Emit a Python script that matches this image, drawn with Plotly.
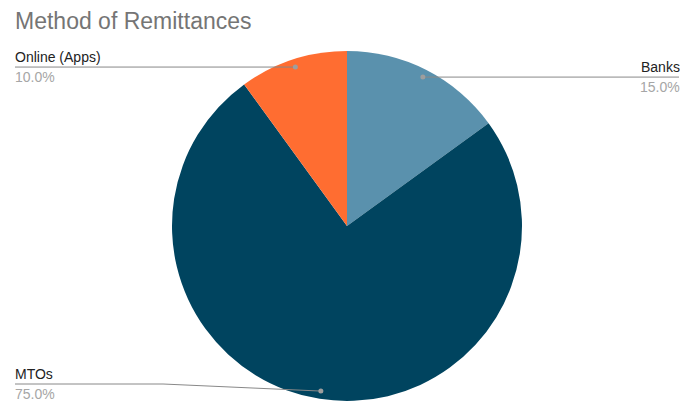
import math
import plotly.graph_objects as go

categories = ["Banks", "MTOs", "Online (Apps)"]
values = [15.0, 75.0, 10.0]
colors = ["#5A91AD", "#00445F", "#FF6D31"]
title_text = "Method of Remittances"

W, H = 680, 402
CX, CY, R = 347, 226, 175

def px(x):
    return x / W

def py(y):
    return 1 - y / H

fig = go.Figure(go.Pie(
    labels=categories, values=values, sort=False, direction="clockwise", rotation=0,
    marker=dict(colors=colors, line=dict(width=0)),
    textinfo="none", hoverinfo="label+percent", showlegend=False,
    domain=dict(x=[px(CX - R), px(CX + R)], y=[py(CY + R), py(CY - R)]),
))

shapes = []
annotations = [dict(text=title_text, x=px(13), y=py(21), xref="paper", yref="paper",
                    xanchor="left", yanchor="middle", showarrow=False,
                    font=dict(family="Liberation Sans, Arial", size=23, color="#757575"))]

total = sum(values)
cum = 0.0
for cat, v in zip(categories, values):
    mid = (cum + v / 2) / total * 2 * math.pi
    cum += v
    dx = CX + 0.955 * R * math.sin(mid)
    dy = CY - 0.955 * R * math.cos(mid)
    right = math.sin(mid) > 0
    ly = min(dy, H - 18)
    if right:
        xe = W - 1
        xt = W + 2
        pts = [(dx, dy), (xe, ly)]
        xa = "right"
    else:
        xe = 15
        xt = 13
        if ly != dy:
            pts = [(dx, dy), (163, ly), (xe, ly)]
        else:
            pts = [(dx, dy), (xe, ly)]
        xa = "left"
    path = "M " + " L ".join(f"{px(a)},{py(b)}" for a, b in pts)
    shapes.append(dict(type="path", path=path, xref="paper", yref="paper",
                       line=dict(color="#888888", width=1)))
    shapes.append(dict(type="circle", xref="paper", yref="paper",
                       x0=px(dx - 2.5), x1=px(dx + 2.5), y0=py(dy + 2.5), y1=py(dy - 2.5),
                       fillcolor="#9e9e9e", line=dict(width=0)))
    annotations.append(dict(text=cat, x=px(xt), y=py(ly - 10), xref="paper", yref="paper",
                            xanchor=xa, yanchor="middle", showarrow=False,
                            font=dict(family="Liberation Sans, Arial", size=14, color="#222222")))
    annotations.append(dict(text=f"{v / total * 100:.1f}%", x=px(xt), y=py(ly + 10),
                            xref="paper", yref="paper", xanchor=xa, yanchor="middle",
                            showarrow=False,
                            font=dict(family="Liberation Sans, Arial", size=14, color="#a6a6a6")))

fig.update_layout(width=W, height=H, margin=dict(l=0, r=0, t=0, b=0),
                  paper_bgcolor="white", plot_bgcolor="white",
                  shapes=shapes, annotations=annotations)
fig.write_html("out.html", config={"displayModeBar": False},
               post_script="document.body.style.margin='0';document.body.style.overflow='hidden';")
